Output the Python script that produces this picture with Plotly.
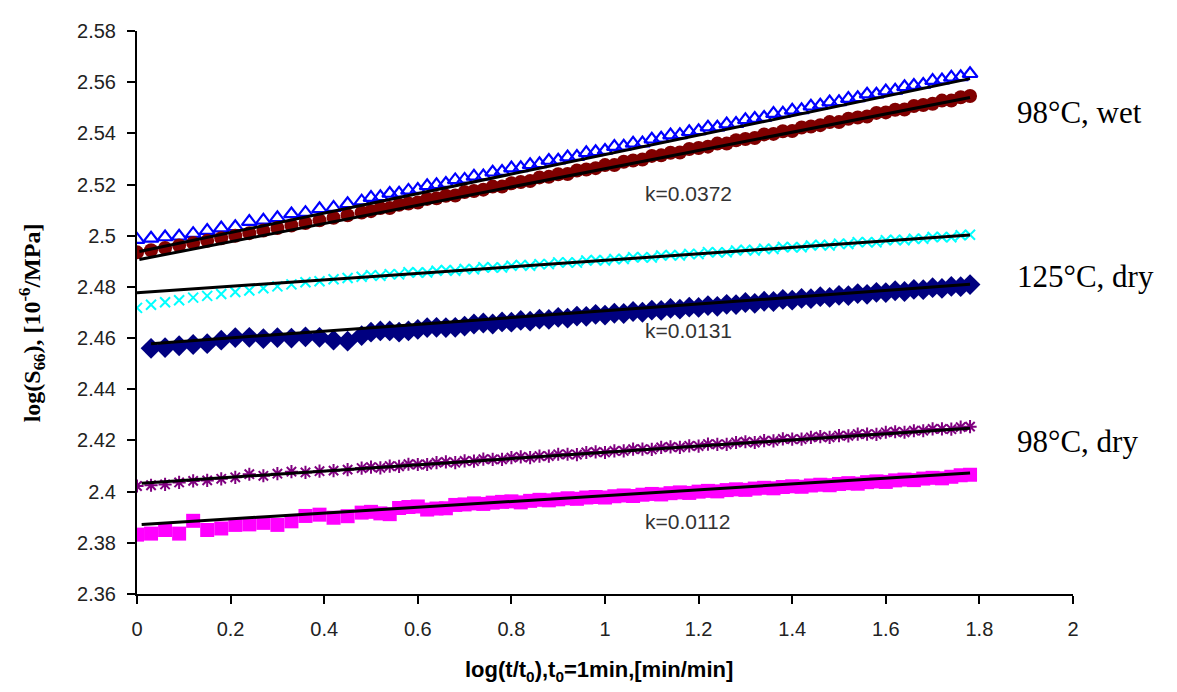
import plotly.graph_objects as go

# log(t/t0) samples (sparse at short times, dense at long times)
X = [0.00, 0.03, 0.06, 0.09, 0.12, 0.15, 0.18, 0.21, 0.24, 0.27, 0.30, 0.33, 0.36, 0.39, 0.42, 0.45, 0.48,
     0.50, 0.52, 0.54, 0.56, 0.58, 0.60, 0.62, 0.64, 0.66, 0.68, 0.70, 0.72, 0.74, 0.76, 0.78,
     0.80, 0.82, 0.84, 0.86, 0.88, 0.90, 0.92, 0.94, 0.96, 0.98, 1.00, 1.02, 1.04, 1.06, 1.08,
     1.10, 1.12, 1.14, 1.16, 1.18, 1.20, 1.22, 1.24, 1.26, 1.28, 1.30, 1.32, 1.34, 1.36, 1.38,
     1.40, 1.42, 1.44, 1.46, 1.48, 1.50, 1.52, 1.54, 1.56, 1.58, 1.60, 1.62, 1.64, 1.66, 1.68,
     1.70, 1.72, 1.74, 1.76, 1.78]

# 98°C, wet (two specimens)
wet_blue = [2.4985, 2.4990, 2.4995, 2.4998, 2.5008, 2.5020, 2.5030, 2.5035, 2.5055, 2.5060, 2.5070, 2.5085, 2.5090, 2.5105, 2.5110, 2.5125, 2.5135,
            2.5149, 2.5152, 2.5165, 2.5166, 2.5177, 2.5180, 2.5195, 2.5199, 2.5204, 2.5218, 2.5220, 2.5232, 2.5233, 2.5248, 2.5251,
            2.5264, 2.5265, 2.5277, 2.5281, 2.5294, 2.5295, 2.5307, 2.5309, 2.5324, 2.5328, 2.5333, 2.5348, 2.5349, 2.5361, 2.5362,
            2.5377, 2.5381, 2.5393, 2.5394, 2.5406, 2.5410, 2.5424, 2.5424, 2.5436, 2.5438, 2.5453, 2.5458, 2.5462, 2.5477, 2.5478,
            2.5490, 2.5492, 2.5506, 2.5510, 2.5522, 2.5523, 2.5536, 2.5539, 2.5553, 2.5553, 2.5565, 2.5568, 2.5582, 2.5587, 2.5591,
            2.5606, 2.5608, 2.5619, 2.5621, 2.5633]
wet_red = [2.4935, 2.4943, 2.4952, 2.4962, 2.4972, 2.4980, 2.4990, 2.5000, 2.5010, 2.5020, 2.5030, 2.5040, 2.5050, 2.5060, 2.5070, 2.5080, 2.5091,
           2.5096, 2.5108, 2.5108, 2.5121, 2.5126, 2.5130, 2.5144, 2.5146, 2.5156, 2.5157, 2.5171, 2.5175, 2.5180, 2.5192, 2.5192,
           2.5205, 2.5210, 2.5214, 2.5228, 2.5230, 2.5240, 2.5241, 2.5255, 2.5259, 2.5264, 2.5276, 2.5276, 2.5289, 2.5294, 2.5298,
           2.5312, 2.5314, 2.5324, 2.5325, 2.5339, 2.5343, 2.5348, 2.5360, 2.5360, 2.5373, 2.5378, 2.5382, 2.5396, 2.5398, 2.5408,
           2.5409, 2.5423, 2.5427, 2.5432, 2.5444, 2.5444, 2.5457, 2.5462, 2.5466, 2.5480, 2.5482, 2.5492, 2.5493, 2.5507, 2.5511,
           2.5516, 2.5528, 2.5528, 2.5541, 2.5546]

# 125°C, dry
dry125_cyan = [2.4718, 2.4730, 2.4740, 2.4748, 2.4758, 2.4765, 2.4772, 2.4780, 2.4786, 2.4795, 2.4802, 2.4810, 2.4818, 2.4822, 2.4830, 2.4835, 2.4840,
               2.4846, 2.4843, 2.4850, 2.4849, 2.4857, 2.4856, 2.4856, 2.4863, 2.4866, 2.4863, 2.4870, 2.4869, 2.4877, 2.4876, 2.4876,
               2.4883, 2.4886, 2.4883, 2.4889, 2.4889, 2.4896, 2.4896, 2.4895, 2.4903, 2.4905, 2.4903, 2.4909, 2.4909, 2.4916, 2.4916,
               2.4915, 2.4923, 2.4925, 2.4923, 2.4929, 2.4928, 2.4936, 2.4935, 2.4935, 2.4942, 2.4945, 2.4942, 2.4949, 2.4948, 2.4956,
               2.4955, 2.4955, 2.4962, 2.4965, 2.4962, 2.4969, 2.4968, 2.4975, 2.4975, 2.4974, 2.4982, 2.4984, 2.4982, 2.4988, 2.4988,
               2.4995, 2.4995, 2.4994, 2.5002, 2.5004]
X_NAVY = X[1:]
dry125_navy = [2.4560, 2.4563, 2.4570, 2.4575, 2.4578, 2.4592, 2.4602, 2.4603, 2.4598, 2.4602, 2.4600, 2.4605, 2.4603, 2.4592, 2.4588, 2.4610,
               2.4623, 2.4628, 2.4628, 2.4623, 2.4628, 2.4634, 2.4641, 2.4642, 2.4641, 2.4642, 2.4647, 2.4655, 2.4659, 2.4655, 2.4663,
               2.4662, 2.4669, 2.4666, 2.4674, 2.4673, 2.4681, 2.4678, 2.4686, 2.4685, 2.4693, 2.4690, 2.4697, 2.4696, 2.4704, 2.4701,
               2.4709, 2.4708, 2.4716, 2.4713, 2.4721, 2.4720, 2.4727, 2.4724, 2.4732, 2.4731, 2.4739, 2.4736, 2.4744, 2.4743, 2.4751,
               2.4748, 2.4755, 2.4754, 2.4762, 2.4759, 2.4767, 2.4766, 2.4774, 2.4771, 2.4779, 2.4778, 2.4785, 2.4782, 2.4790, 2.4789,
               2.4797, 2.4794, 2.4802, 2.4801, 2.4809]

# 98°C, dry
dry98_purple = [2.4022, 2.4025, 2.4028, 2.4036, 2.4042, 2.4044, 2.4050, 2.4056, 2.4068, 2.4062, 2.4070, 2.4078, 2.4075, 2.4080, 2.4082, 2.4086, 2.4092,
                2.4096, 2.4093, 2.4100, 2.4099, 2.4107, 2.4106, 2.4106, 2.4113, 2.4116, 2.4113, 2.4120, 2.4119, 2.4127, 2.4126, 2.4126,
                2.4133, 2.4136, 2.4133, 2.4139, 2.4139, 2.4146, 2.4146, 2.4145, 2.4153, 2.4155, 2.4153, 2.4159, 2.4159, 2.4166, 2.4166,
                2.4165, 2.4173, 2.4175, 2.4173, 2.4179, 2.4178, 2.4186, 2.4185, 2.4185, 2.4192, 2.4195, 2.4192, 2.4199, 2.4198, 2.4206,
                2.4205, 2.4205, 2.4212, 2.4215, 2.4212, 2.4219, 2.4218, 2.4225, 2.4225, 2.4224, 2.4232, 2.4234, 2.4232, 2.4238, 2.4238,
                2.4245, 2.4245, 2.4244, 2.4252, 2.4254]
dry98_magenta = [2.3832, 2.3836, 2.3850, 2.3836, 2.3886, 2.3850, 2.3856, 2.3870, 2.3872, 2.3878, 2.3870, 2.3884, 2.3905, 2.3910, 2.3898, 2.3904, 2.3918,
                 2.3921, 2.3915, 2.3912, 2.3936, 2.3940, 2.3942, 2.3930, 2.3934, 2.3935, 2.3948, 2.3950, 2.3954, 2.3952, 2.3957, 2.3960,
                 2.3962, 2.3958, 2.3964, 2.3968, 2.3966, 2.3970, 2.3974, 2.3972, 2.3977, 2.3979, 2.3977, 2.3982, 2.3985, 2.3983, 2.3988,
                 2.3991, 2.3989, 2.3994, 2.3997, 2.3995, 2.4000, 2.4003, 2.4001, 2.4006, 2.4009, 2.4007, 2.4012, 2.4015, 2.4013, 2.4018,
                 2.4021, 2.4019, 2.4024, 2.4027, 2.4025, 2.4030, 2.4033, 2.4031, 2.4037, 2.4040, 2.4038, 2.4044, 2.4047, 2.4045, 2.4051,
                 2.4054, 2.4052, 2.4058, 2.4064, 2.4066]

# linear fit lines (start x, end x, start y, end y)
FIT_X0 = [0.005, 0.005, 0.0, 0.03, 0.01, 0.01]
FIT_X1 = [1.78, 1.78, 1.78, 1.78, 1.78, 1.78]
FIT_Y0 = [2.4938, 2.4907, 2.4777, 2.4578, 2.4033, 2.3872]
FIT_Y1 = [2.5614, 2.5540, 2.5003, 2.4810, 2.4248, 2.4073]

X_TICKS = [0, 0.2, 0.4, 0.6, 0.8, 1, 1.2, 1.4, 1.6, 1.8, 2]
X_TICKTEXT = ["0", "0.2", "0.4", "0.6", "0.8", "1", "1.2", "1.4", "1.6", "1.8", "2"]
Y_TICKS = [2.36, 2.38, 2.40, 2.42, 2.44, 2.46, 2.48, 2.50, 2.52, 2.54, 2.56, 2.58]
Y_TICKTEXT = ["2.36", "2.38", "2.4", "2.42", "2.44", "2.46", "2.48", "2.5", "2.52", "2.54", "2.56", "2.58"]

K_LABELS = ["k=0.0372", "k=0.0131", "k=0.0112"]
K_POS = [(1.081, 2.5166), (1.081, 2.4630), (1.081, 2.3883)]
GROUP_LABELS = ["98°C, wet", "125°C, dry", "98°C, dry"]
GROUP_X = 1.875
GROUP_Y = [2.5482, 2.4842, 2.4195]

SANS = "Liberation Sans, Arial, sans-serif"
SERIF = "Liberation Serif, Times New Roman, serif"

fig = go.Figure()

series = [
    (X, wet_blue, dict(symbol="triangle-up-open", size=13, color="#0000FF", line=dict(width=2.2, color="#0000FF"))),
    (X, wet_red, dict(symbol="circle", size=14, color="#800000", line=dict(width=0))),
    (X, dry125_cyan, dict(symbol="x-thin-open", size=10, color="#00FFFF", line=dict(width=2, color="#00FFFF"))),
    (X_NAVY, dry125_navy, dict(symbol="diamond", size=16, color="#000080", line=dict(width=0))),
    (X, dry98_purple, dict(symbol="asterisk-open", size=11, color="#800080", line=dict(width=2, color="#800080"))),
    (X, dry98_magenta, dict(symbol="square", size=14, color="#FF00FF", line=dict(width=0))),
]
for xs, ys, mk in series:
    fig.add_trace(go.Scatter(x=xs, y=ys, mode="markers", marker=mk, showlegend=False, hoverinfo="skip"))

for x0, x1, y0, y1 in zip(FIT_X0, FIT_X1, FIT_Y0, FIT_Y1):
    fig.add_trace(go.Scatter(x=[x0, x1], y=[y0, y1], mode="lines",
                             line=dict(color="black", width=3), showlegend=False, hoverinfo="skip"))

annotations = []
for txt, (kx, ky) in zip(K_LABELS, K_POS):
    annotations.append(dict(x=kx, y=ky, xref="x", yref="y", text=txt, showarrow=False,
                            xanchor="left", yanchor="middle",
                            font=dict(family=SANS, size=21, color="#333333")))
for txt, gy in zip(GROUP_LABELS, GROUP_Y):
    annotations.append(dict(x=GROUP_X, y=gy, xref="x", yref="y", text=txt, showarrow=False,
                            xanchor="left", yanchor="middle",
                            font=dict(family=SERIF, size=31, color="black")))
# axis titles
annotations.append(dict(x=0.494, y=-0.136, xref="paper", yref="paper",
                        text="<b>log(t/t<sub>0</sub>),t<sub>0</sub>=1min,[min/min]</b>",
                        showarrow=False, xanchor="center", yanchor="middle",
                        font=dict(family=SANS, size=22, color="black")))
annotations.append(dict(x=-0.112, y=0.481, xref="paper", yref="paper",
                        text="<b>log(S<sub>66</sub>), [10<sup>-6</sup>/MPa]</b>", textangle=-90,
                        showarrow=False, xanchor="center", yanchor="middle",
                        font=dict(family=SERIF, size=24, color="black")))

fig.update_layout(
    width=1177, height=692,
    margin=dict(l=129, r=112, t=12, b=106),
    paper_bgcolor="white", plot_bgcolor="white",
    annotations=annotations,
    xaxis=dict(range=[0, 2], tickvals=X_TICKS, ticktext=X_TICKTEXT,
               showgrid=False, zeroline=False, showline=True, linecolor="black", linewidth=2,
               ticks="outside", ticklen=8, tickwidth=2, tickcolor="black", ticklabelstandoff=8,
               tickfont=dict(family=SANS, size=20, color="#222222")),
    yaxis=dict(range=[2.36, 2.58], tickvals=Y_TICKS, ticktext=Y_TICKTEXT,
               showgrid=False, zeroline=False, showline=True, linecolor="black", linewidth=2,
               ticks="outside", ticklen=8, tickwidth=2, tickcolor="black", ticklabelstandoff=7,
               tickfont=dict(family=SANS, size=20, color="#222222")),
)

fig.write_html("out.html")
